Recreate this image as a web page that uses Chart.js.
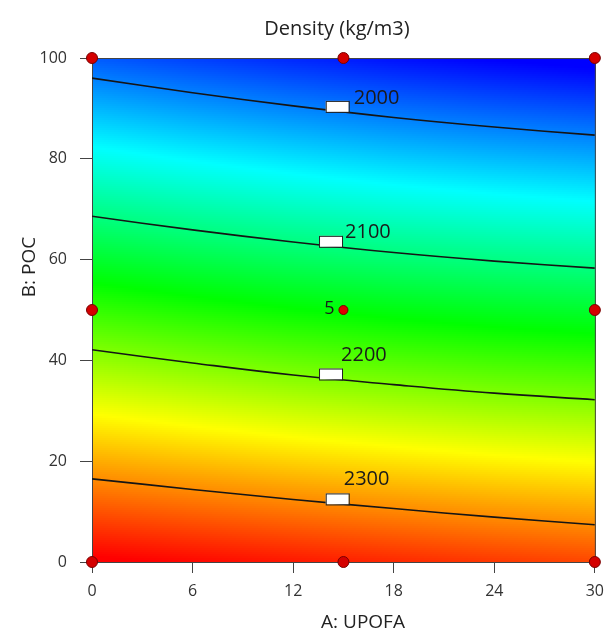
<!DOCTYPE html>
<html>
<head>
<meta charset="utf-8">
<script src="https://cdn.jsdelivr.net/npm/chart.js@4.4.1/dist/chart.umd.min.js"></script>
<style>
  body { margin: 0; background: #fff; }
  #wrap { width: 613px; height: 635px; }
</style>
</head>
<body>
<div id="wrap"><canvas id="densityChart" width="613" height="635"></canvas></div>
<script>
// Axis ticks
const xTicks = [0, 6, 12, 18, 24, 30];
const yTicks = [0, 20, 40, 60, 80, 100];

// Contour lines: B (POC) value of each level, read at these A (UPOFA) values
const contourX = [0, 6, 12, 18, 24, 30];
const contourLevels = [2000, 2100, 2200, 2300];
const contour2000 = [96.0, 93.1, 90.5, 88.2, 86.3, 84.7];
const contour2100 = [68.6, 65.9, 63.5, 61.4, 59.7, 58.3];
const contour2200 = [42.1, 39.5, 37.1, 35.2, 33.5, 32.2];
const contour2300 = [16.5, 14.4, 12.4, 10.6, 8.9, 7.4];
// where the level label box sits along each line (A value)
const contourLabelX = [14.6, 14.2, 14.2, 14.6];

// Design points
const designX = [0, 15, 30, 0, 30, 0, 15, 30];
const designY = [0, 0, 0, 50, 50, 100, 100, 100];
const centerX = [15];
const centerY = [50];
const centerCount = ["5"];

// Colour scale: density value -> colour stop
const colorLevels = [1950, 2050, 2150, 2250, 2360];
const colorStops = [[0, 0, 255], [0, 255, 255], [0, 255, 0], [255, 255, 0], [255, 0, 0]];

const contours = [contour2000, contour2100, contour2200, contour2300];
const FONT = "'Open Sans', 'Noto Sans', sans-serif";

// linear interpolation in a table
function interp(xs, ys, v) {
  if (v <= xs[0]) return ys[0];
  for (let i = 1; i < xs.length; i++) {
    if (v <= xs[i]) {
      const t = (v - xs[i - 1]) / (xs[i] - xs[i - 1]);
      return ys[i - 1] + t * (ys[i] - ys[i - 1]);
    }
  }
  return ys[ys.length - 1];
}

// density at height yv, given the contour heights at this column
function densityAt(cy, yv) {
  const n = cy.length;
  let i = 0;
  if (yv >= cy[0]) i = 0;
  else if (yv <= cy[n - 1]) i = n - 2;
  else {
    while (i < n - 2 && yv < cy[i + 1]) i++;
  }
  const slope = (contourLevels[i + 1] - contourLevels[i]) / (cy[i + 1] - cy[i]);
  return contourLevels[i] + (yv - cy[i]) * slope;
}

function colorFor(d) {
  if (d <= colorLevels[0]) return colorStops[0];
  for (let i = 1; i < colorLevels.length; i++) {
    if (d <= colorLevels[i]) {
      const t = (d - colorLevels[i - 1]) / (colorLevels[i] - colorLevels[i - 1]);
      const a = colorStops[i - 1], b = colorStops[i];
      return [0, 1, 2].map((k) => Math.round(a[k] + t * (b[k] - a[k])));
    }
  }
  return colorStops[colorStops.length - 1];
}

// Filled colour field + frame, drawn under the lines
const fieldPlugin = {
  id: "field",
  beforeDatasetsDraw(chart) {
    const { ctx, chartArea: a, scales } = chart;
    const step = 2;
    ctx.save();
    for (let px = a.left; px < a.right; px += step) {
      const xv = scales.x.getValueForPixel(px + step / 2);
      const cy = contours.map((c) => interp(contourX, c, xv));
      for (let py = a.top; py < a.bottom; py += step) {
        const yv = scales.y.getValueForPixel(py + step / 2);
        const c = colorFor(densityAt(cy, yv));
        ctx.fillStyle = `rgb(${c[0]},${c[1]},${c[2]})`;
        ctx.fillRect(px, py, step, step);
      }
    }
    ctx.strokeStyle = "#444";
    ctx.lineWidth = 1;
    ctx.strokeRect(a.left + 0.5, a.top + 0.5, a.right - a.left, a.bottom - a.top);
    ctx.restore();
  },
  afterDatasetsDraw(chart) {
    const { ctx, scales } = chart;
    ctx.save();
    // level label boxes (sitting on the line) and values
    const offsets = [[5, -13], [3, -14], [-1, -23], [-5, -24]];
    contourLevels.forEach((level, i) => {
      const bx = scales.x.getPixelForValue(contourLabelX[i]);
      const by = scales.y.getPixelForValue(interp(contourX, contours[i], contourLabelX[i]));
      ctx.fillStyle = "#fff";
      ctx.strokeStyle = "#222";
      ctx.lineWidth = 1;
      ctx.fillRect(bx - 11, by - 10, 23, 11);
      ctx.strokeRect(bx - 11 + 0.5, by - 10 + 0.5, 23, 11);
      ctx.fillStyle = "#1a1a1a";
      ctx.font = `20px ${FONT}`;
      ctx.textAlign = "left";
      ctx.textBaseline = "middle";
      ctx.fillText(String(level), bx + 12 + offsets[i][0], by + offsets[i][1]);
    });
    // replicate count at the centre point
    ctx.font = `18px ${FONT}`;
    ctx.textAlign = "right";
    ctx.fillStyle = "#1a1a1a";
    ctx.fillText(centerCount[0], scales.x.getPixelForValue(centerX[0]) - 9, scales.y.getPixelForValue(centerY[0]) - 1);
    ctx.restore();
  },
  afterDraw(chart) {
    const { ctx } = chart;
    ctx.save();
    ctx.fillStyle = "#222";
    ctx.textAlign = "center";
    ctx.textBaseline = "middle";
    ctx.font = `20px ${FONT}`;
    ctx.fillText("Density (kg/m3)", 337, 29);
    ctx.font = `19px ${FONT}`;
    ctx.fillText("A: UPOFA", 363, 623);
    ctx.translate(30, 267);
    ctx.rotate(-Math.PI / 2);
    ctx.fillText("B: POC", 0, 0);
    ctx.restore();
  },
};

const toXY = (xs, ys) => xs.map((v, i) => ({ x: v, y: ys[i] }));

const datasets = contours.map((c, i) => ({
  label: String(contourLevels[i]),
  data: toXY(contourX, c),
  showLine: true,
  borderColor: "#151515",
  borderWidth: 1.6,
  pointRadius: 0,
  tension: 0.4,
  fill: false,
}));

datasets.push({
  label: "design",
  data: toXY(designX, designY),
  pointRadius: 5.5,
  pointBackgroundColor: "#d40000",
  pointBorderColor: "#7a0000",
  pointBorderWidth: 1,
  clip: false,
});
datasets.push({
  label: "center",
  data: toXY(centerX, centerY),
  pointRadius: 4.5,
  pointBackgroundColor: "#e00000",
  pointBorderColor: "#7a0000",
  pointBorderWidth: 1,
  clip: false,
});

new Chart(document.getElementById("densityChart"), {
  type: "scatter",
  data: { datasets },
  plugins: [fieldPlugin],
  options: {
    responsive: false,
    animation: false,
    layout: { padding: { top: 58, right: 18, left: 0, bottom: 0 } },
    plugins: { legend: { display: false }, tooltip: { enabled: false } },
    scales: {
      x: {
        type: "linear",
        min: 0,
        max: 30,
        afterBuildTicks: (s) => { s.ticks = xTicks.map((v) => ({ value: v })); },
        afterFit: (s) => { s.height = 73; },
        grid: { drawOnChartArea: false, tickLength: 11, color: "#444" },
        border: { display: true, color: "#444" },
        ticks: { padding: 9, color: "#333", font: { size: 16, family: FONT } },
      },
      y: {
        type: "linear",
        min: 0,
        max: 100,
        afterBuildTicks: (s) => { s.ticks = yTicks.map((v) => ({ value: v })); },
        afterFit: (s) => { s.width = 92; },
        grid: { drawOnChartArea: false, tickLength: 12, color: "#444" },
        border: { display: true, color: "#444" },
        ticks: { padding: 13, color: "#333", font: { size: 16, family: FONT } },
      },
    },
  },
});
</script>
</body>
</html>
